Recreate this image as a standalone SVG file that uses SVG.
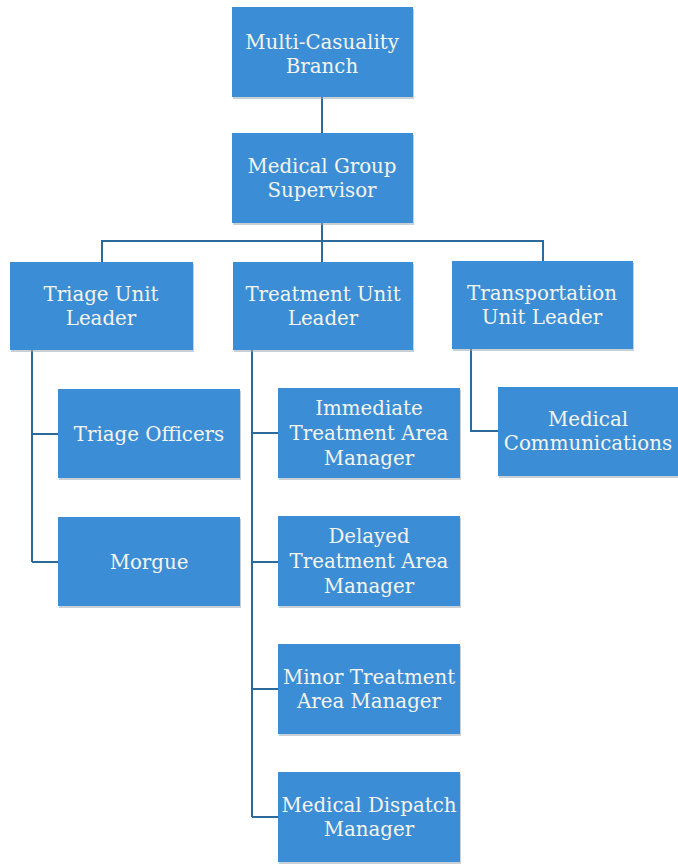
<svg xmlns="http://www.w3.org/2000/svg" width="678" height="864" viewBox="0 0 678 864">
  <style>
    .box { fill: #3b8ed5; }
    .shadow { fill: #9aa7b3; opacity: 0.55; }
    .lbl { font-family: "DejaVu Serif", "Liberation Serif", serif; font-size: 19.8px; fill: #f5f4ec; text-anchor: middle; dominant-baseline: central; }
    .link { fill: none; stroke: #2c6b99; stroke-width: 2; }
  </style>
  <rect width="678" height="864" fill="#ffffff"/>

  <!-- reporting lines -->
  <g id="connectors">
    <path class="link" d="M322 97 V133"/>
    <path class="link" d="M322 223 V262"/>
    <path class="link" d="M102 262 V241 H543 V261"/>
    <path class="link" d="M32 350 V562 M32 434 H58 M32 562 H58"/>
    <path class="link" d="M252 350 V817 M252 433 H278 M252 562 H278 M252 689 H278 M252 817 H278"/>
    <path class="link" d="M471 349 V431 H498"/>
  </g>

  <g id="multi-casuality-branch">
    <rect class="shadow" x="233" y="9" width="181" height="90"/>
    <rect class="box" x="232" y="7" width="181" height="90"/>
    <text class="lbl" x="322" y="42">Multi-Casuality</text>
    <text class="lbl" x="322" y="66">Branch</text>
  </g>

  <g id="medical-group-supervisor">
    <rect class="shadow" x="233" y="135" width="181" height="90"/>
    <rect class="box" x="232" y="133" width="181" height="90"/>
    <text class="lbl" x="322" y="166">Medical Group</text>
    <text class="lbl" x="322" y="190">Supervisor</text>
  </g>

  <g id="triage-unit-leader">
    <rect class="shadow" x="11" y="264" width="183" height="88"/>
    <rect class="box" x="10" y="262" width="183" height="88"/>
    <text class="lbl" x="101" y="294">Triage Unit</text>
    <text class="lbl" x="101" y="318">Leader</text>
  </g>

  <g id="treatment-unit-leader">
    <rect class="shadow" x="234" y="264" width="180" height="88"/>
    <rect class="box" x="233" y="262" width="180" height="88"/>
    <text class="lbl" x="323" y="294">Treatment Unit</text>
    <text class="lbl" x="323" y="318">Leader</text>
  </g>

  <g id="transportation-unit-leader">
    <rect class="shadow" x="453" y="263" width="181" height="88"/>
    <rect class="box" x="452" y="261" width="181" height="88"/>
    <text class="lbl" x="542" y="293">Transportation</text>
    <text class="lbl" x="542" y="317">Unit Leader</text>
  </g>

  <g id="triage-officers">
    <rect class="shadow" x="59" y="391" width="182" height="89"/>
    <rect class="box" x="58" y="389" width="182" height="89"/>
    <text class="lbl" x="149" y="434">Triage Officers</text>
  </g>

  <g id="morgue">
    <rect class="shadow" x="59" y="519" width="182" height="89"/>
    <rect class="box" x="58" y="517" width="182" height="89"/>
    <text class="lbl" x="149" y="562">Morgue</text>
  </g>

  <g id="immediate-treatment-area-manager">
    <rect class="shadow" x="279" y="390" width="182" height="90"/>
    <rect class="box" x="278" y="388" width="182" height="90"/>
    <text class="lbl" x="369" y="408">Immediate</text>
    <text class="lbl" x="369" y="433">Treatment Area</text>
    <text class="lbl" x="369" y="458">Manager</text>
  </g>

  <g id="delayed-treatment-area-manager">
    <rect class="shadow" x="279" y="518" width="182" height="90"/>
    <rect class="box" x="278" y="516" width="182" height="90"/>
    <text class="lbl" x="369" y="536">Delayed</text>
    <text class="lbl" x="369" y="561">Treatment Area</text>
    <text class="lbl" x="369" y="586">Manager</text>
  </g>

  <g id="minor-treatment-area-manager">
    <rect class="shadow" x="279" y="646" width="182" height="90"/>
    <rect class="box" x="278" y="644" width="182" height="90"/>
    <text class="lbl" x="369" y="677">Minor Treatment</text>
    <text class="lbl" x="369" y="701">Area Manager</text>
  </g>

  <g id="medical-dispatch-manager">
    <rect class="shadow" x="279" y="774" width="182" height="90"/>
    <rect class="box" x="278" y="772" width="182" height="90"/>
    <text class="lbl" x="369" y="805">Medical Dispatch</text>
    <text class="lbl" x="369" y="829">Manager</text>
  </g>

  <g id="medical-communications">
    <rect class="shadow" x="499" y="389" width="182" height="89"/>
    <rect class="box" x="498" y="387" width="182" height="89"/>
    <text class="lbl" x="588" y="419">Medical</text>
    <text class="lbl" x="588" y="443">Communications</text>
  </g>
</svg>
